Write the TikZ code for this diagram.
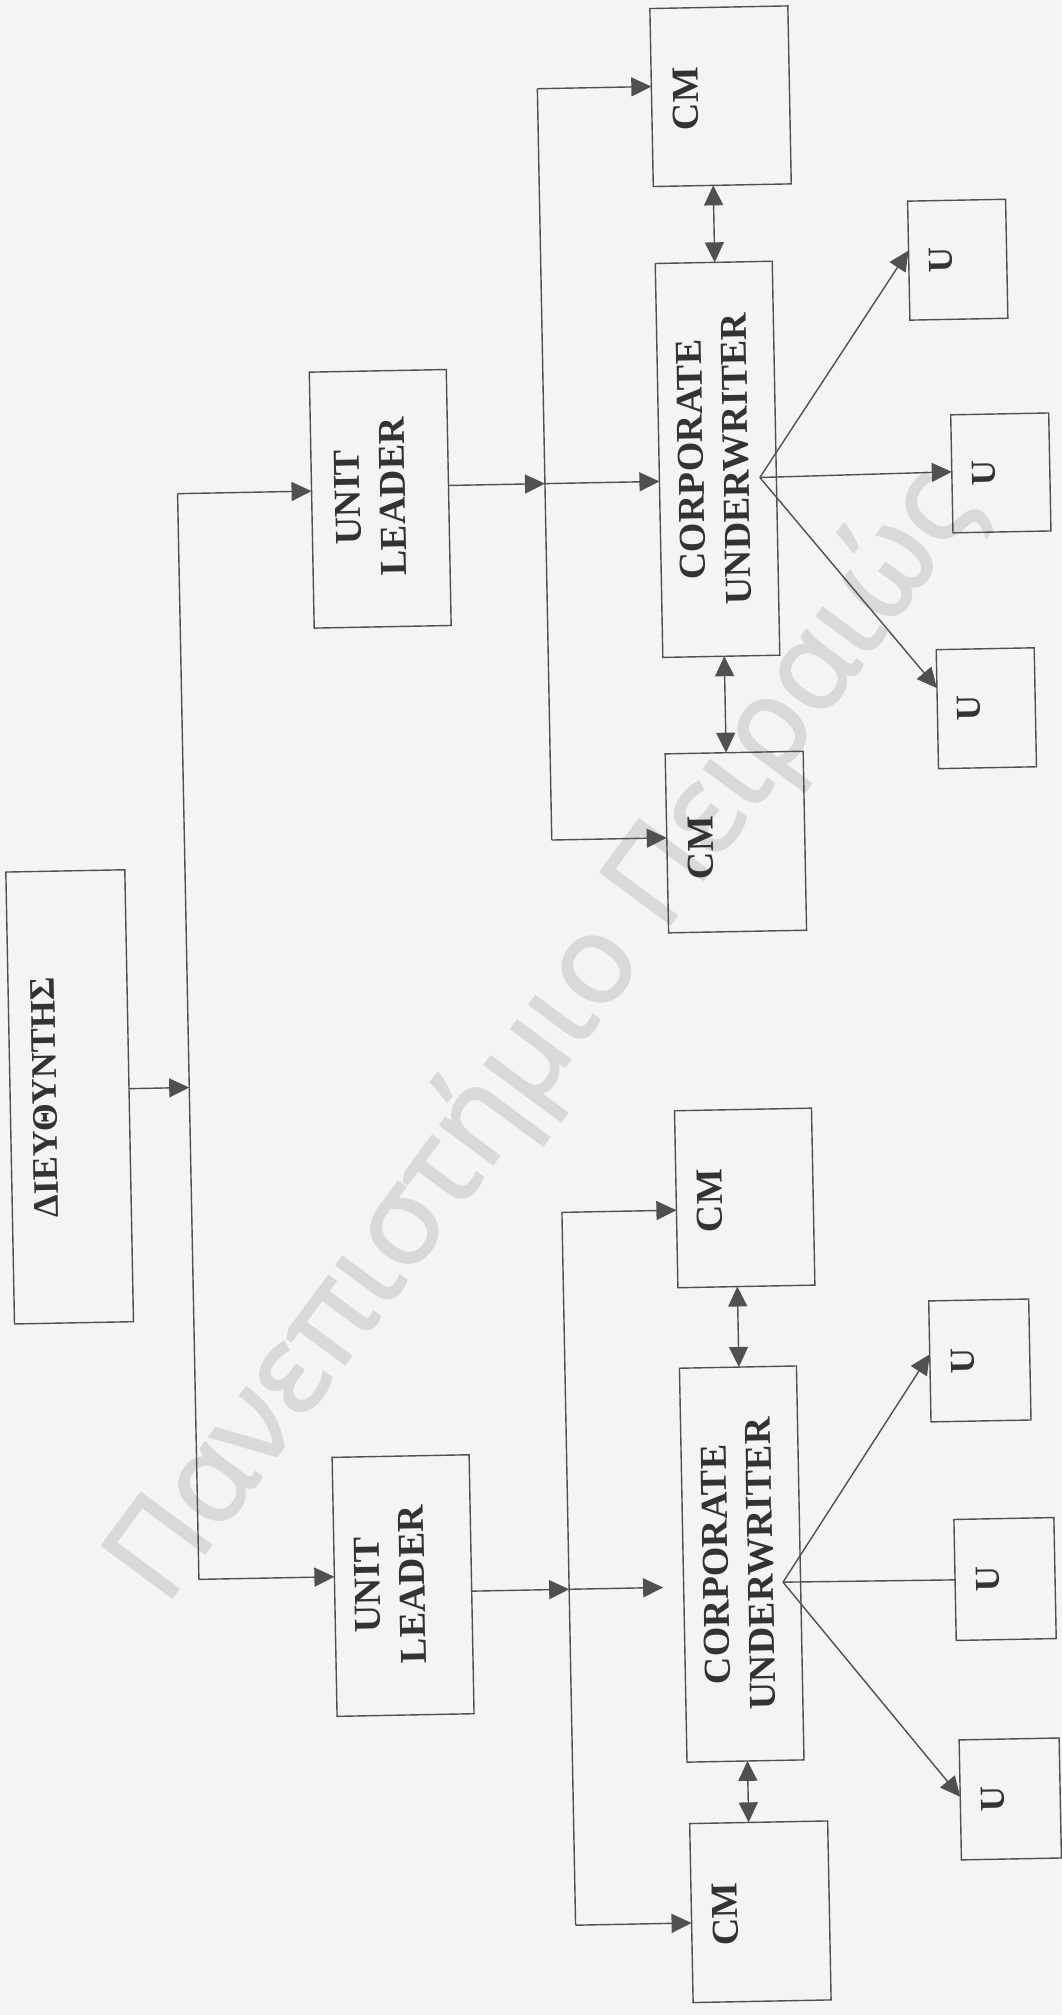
\documentclass[tikz,border=0pt]{standalone}
\usepackage{fontspec}
\setmainfont{Liberation Serif}
\newfontfamily\wmfont[FakeBold=2]{Open Sans}
\usetikzlibrary{arrows.meta}
\definecolor{bgc}{HTML}{F4F4F4}
\definecolor{lnc}{HTML}{505050}
\definecolor{txc}{HTML}{333333}
\definecolor{wmc}{HTML}{D9D9D9}
\begin{document}
\begin{tikzpicture}[x=1pt,y=-1pt,
  box/.style={draw=lnc, line width=1.4pt, inner sep=0pt, outer sep=0pt},
  lbl/.style={text=txc, font=\bfseries\fontsize{38}{45}\selectfont, rotate=90, align=center, inner sep=0pt},
  dlbl/.style={lbl, font=\bfseries\fontsize{36}{43}\selectfont},
  ulbl/.style={lbl, font=\bfseries\fontsize{35}{40}\selectfont},
  conn/.style={draw=lnc, line width=1.4pt},
  arr/.style={conn, -{Triangle[length=20pt,width=19pt]}},
  darr/.style={conn, {Triangle[length=20pt,width=19pt]}-{Triangle[length=20pt,width=19pt]}}]
\fill[bgc] (0,0) rectangle (1062,2015);
\useasboundingbox (0,0) rectangle (1062,2015);
\node[text=wmc, font=\wmfont\fontsize{122}{122}\selectfont, rotate=53.5, anchor=base west, inner sep=0pt] (wm) at (165,1607) {Πανεπιστήμιο Πειραιώς};
\begin{scope}[rotate around={1.1:(531,1007)}, transform shape]
% boxes
\node[box, minimum width=119pt, minimum height=452pt] (D) at (68,1088) {};
\node[box, minimum width=137pt, minimum height=256pt] (UL1) at (390,496) {};
\node[box, minimum width=137pt, minimum height=259pt] (UL2) at (392,1583) {};
\node[box, minimum width=117pt, minimum height=394pt] (CU1) at (728,463) {};
\node[box, minimum width=117pt, minimum height=394pt] (CU2) at (731,1568) {};
\node[box, minimum width=138pt, minimum height=178pt] (CM1a) at (738,100) {};
\node[box, minimum width=138pt, minimum height=179pt] (CM1b) at (739,846) {};
\node[box, minimum width=137pt, minimum height=177pt] (CM2a) at (741,1202) {};
\node[box, minimum width=138pt, minimum height=179pt] (CM2b) at (743,1916) {};
\node[box, minimum width=98pt, minimum height=119pt] (U1a) at (972,268) {};
\node[box, minimum width=98pt, minimum height=118pt] (U1b) at (1011,482) {};
\node[box, minimum width=98pt, minimum height=119pt] (U1c) at (992,717) {};
\node[box, minimum width=100pt, minimum height=121pt] (U2a) at (973,1369) {};
\node[box, minimum width=100pt, minimum height=121pt] (U2b) at (994,1588) {};
\node[box, minimum width=100pt, minimum height=120pt] (U2c) at (995,1808) {};
% labels
\node[dlbl] (tD) at (43,1088) {ΔΙΕΥΘΥΝΤΗΣ};
\node[lbl] (tUL1) at (380,494) {UNIT\\LEADER};
\node[lbl] (tUL2) at (379,1582) {UNIT\\LEADER};
\node[lbl] (tCU1) at (724,463) {CORPORATE\\UNDERWRITER};
\node[lbl] (tCU2) at (727.5,1568) {CORPORATE\\UNDERWRITER};
\node[lbl] (tCM1a) at (703,102) {CM};
\node[lbl] (tCM1b) at (704,851) {CM};
\node[lbl] (tCM2a) at (706,1204) {CM};
\node[lbl] (tCM2b) at (708,1918) {CM};
\node[ulbl] (tU1a) at (955,268) {U};
\node[ulbl] (tU1b) at (994,482) {U};
\node[ulbl] (tU1c) at (975,717) {U};
\node[ulbl] (tU2a) at (956,1369) {U};
\node[ulbl] (tU2b) at (977,1588) {U};
\node[ulbl] (tU2c) at (978,1808) {U};
% trunk
\coordinate (T1) at (187.5,487);
\coordinate (T2) at (188,1573);
\coordinate (Tm) at (187.7,1081);
\draw[conn] (T1) -- (T2);
\draw[arr] (D.east |- Tm) -- (Tm);
\draw[arr] (T1) -- (UL1.west |- T1);
\draw[arr] (T2) -- (UL2.west |- T2);
% upper bus
\coordinate (B1a) at (555,89);
\coordinate (B1m) at (555,484);
\coordinate (B1b) at (555,840.5);
\draw[arr] (UL1.east |- B1m) -- (B1m);
\draw[arr] (B1m) -- (CU1.west |- B1m);
\draw[conn] (B1a) -- (B1b);
\draw[arr] (B1a) -- (CM1a.west |- B1a);
\draw[arr] (B1b) -- (CM1b.west |- B1b);
% lower bus
\coordinate (B2a) at (558,1213);
\coordinate (B2m) at (558,1590);
\coordinate (B2b) at (558,1926);
\coordinate (E2) at (652,1590);
\draw[arr] (UL2.east |- B2m) -- (B2m);
\draw[arr] (B2m) -- (E2);
\draw[conn] (B2a) -- (B2b);
\draw[arr] (B2a) -- (CM2a.west |- B2a);
\draw[arr] (B2b) -- (CM2b.west |- B2b);
% double arrows
\coordinate (X1) at (729,226);
\coordinate (X2) at (731,708);
\coordinate (X3) at (732,1330);
\coordinate (X4) at (733,1795);
\draw[darr] (CM1a.south -| X1) -- (CU1.north -| X1);
\draw[darr] (CU1.south -| X2) -- (CM1b.north -| X2);
\draw[darr] (CM2a.south -| X3) -- (CU2.north -| X3);
\draw[darr] (CU2.south -| X4) -- (CM2b.north -| X4);
% fans
\coordinate (A1) at (770,482);
\coordinate (P1a) at (923,258);
\coordinate (P1b) at (962,480);
\coordinate (P1c) at (943,696);
\draw[arr] (A1) -- (U1a.west |- P1a);
\draw[arr] (A1) -- (U1b.west |- P1b);
\draw[arr] (A1) -- (U1c.west |- P1c);
\coordinate (A2) at (772,1587);
\coordinate (P2a) at (924,1362);
\coordinate (P2b) at (944,1588);
\coordinate (P2c) at (947,1805);
\draw[arr] (A2) -- (U2a.west |- P2a);
\draw[conn] (A2) -- (U2b.west |- P2b);
\draw[arr] (A2) -- (U2c.west |- P2c);
\end{scope}
\end{tikzpicture}
\end{document}
